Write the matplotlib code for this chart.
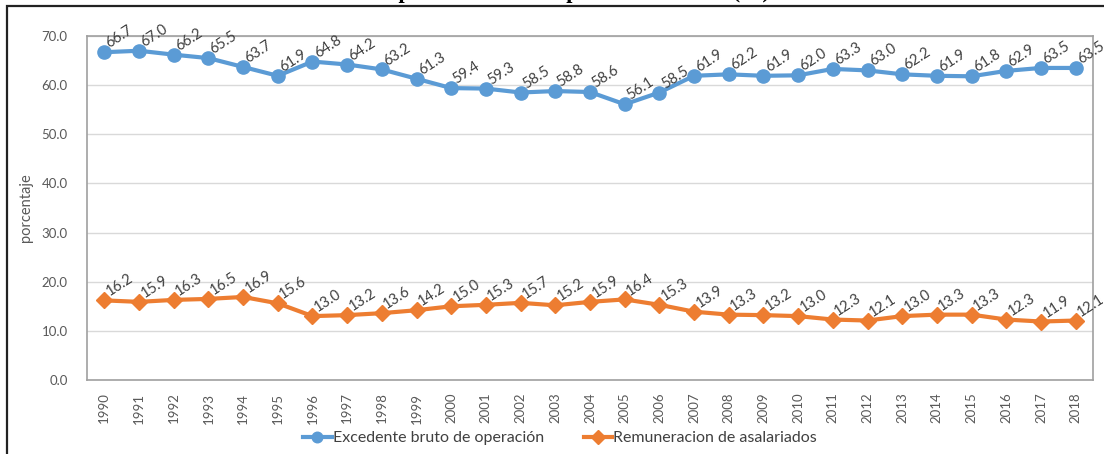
import matplotlib.pyplot as plt
from matplotlib.patches import Rectangle

years = [str(y) for y in range(1990, 2019)]
excedente = [66.7, 67.0, 66.2, 65.5, 63.7, 61.9, 64.8, 64.2, 63.2, 61.3,
             59.4, 59.3, 58.5, 58.8, 58.6, 56.1, 58.5, 61.9, 62.2, 61.9,
             62.0, 63.3, 63.0, 62.2, 61.9, 61.8, 62.9, 63.5, 63.5]
remuneracion = [16.2, 15.9, 16.3, 16.5, 16.9, 15.6, 13.0, 13.2, 13.6, 14.2,
                15.0, 15.3, 15.7, 15.2, 15.9, 16.4, 15.3, 13.9, 13.3, 13.2,
                13.0, 12.3, 12.1, 13.0, 13.3, 13.3, 12.3, 11.9, 12.1]
y_ticks = [0, 10, 20, 30, 40, 50, 60, 70]

plt.rcParams['font.family'] = ['Lato', 'DejaVu Sans']
text_gray = '#595959'
label_gray = '#404040'

fig = plt.figure(figsize=(11.04, 4.54), dpi=100)
W, H = 1104, 454

# outer frame of the pasted chart
fig.patches.append(Rectangle((7 / W, -0.1), 1.2, 1 - 6 / H + 0.1,
                             transform=fig.transFigure, fill=False,
                             edgecolor='#222222', linewidth=1.6))
# heading sits above the frame
fig.text(0.5, 1 + 2 / H, 'Participación de los componentes del PIB (%)',
         ha='center', va='baseline', fontsize=16, fontweight='bold',
         family='Liberation Serif', color='black')

ax = fig.add_axes([87 / W, 1 - 380 / H, (1093 - 87) / W, (380 - 36) / H])
x = list(range(len(years)))

ax.plot(x, excedente, color='#5B9BD5', lw=3, marker='o', ms=9.5,
        label='Excedente bruto de operación', zorder=3)
ax.plot(x, remuneracion, color='#ED7D31', lw=3, marker='D', ms=8.5,
        label='Remuneracion de asalariados', zorder=3)

for series in (excedente, remuneracion):
    for xi, v in zip(x, series):
        ax.annotate(f'{v:.1f}', (xi, v), xytext=(5, 1), textcoords='offset points',
                    ha='left', va='bottom', rotation=33, rotation_mode='anchor',
                    fontsize=10.5, color=label_gray, zorder=4)

ax.set_xlim(-0.5, len(years) - 0.5)
ax.set_ylim(0, 70)
ax.set_yticks(y_ticks)
ax.set_yticklabels([f'{t:.1f}' for t in y_ticks])
ax.set_xticks(x)
ax.set_xticklabels(years, rotation=90)
ax.tick_params(length=0, labelsize=9.5, labelcolor=text_gray)
ax.tick_params(axis='x', pad=9)
ax.tick_params(axis='y', pad=14)
ax.grid(axis='y', color='#D9D9D9', lw=1)
ax.set_axisbelow(True)
for s in ax.spines.values():
    s.set_color('#A0A0A0')
    s.set_linewidth(1.2)

ax.set_ylabel('porcentaje', fontsize=10.5, color=text_gray, labelpad=6)

fig.legend(loc='center', bbox_to_anchor=(560 / W, 1 - 438 / H), ncol=2,
           frameon=False, fontsize=11.5, labelcolor=label_gray,
           handlelength=1.8, handletextpad=0.05, columnspacing=2.5,
           markerscale=0.8)

fig.savefig('out.png', dpi=100)
